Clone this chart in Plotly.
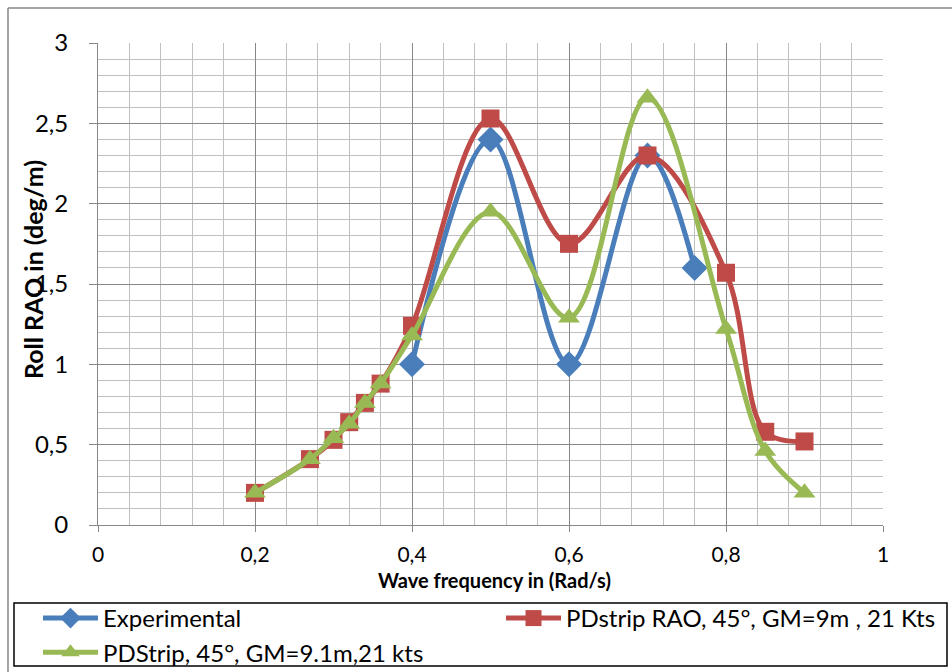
import plotly.graph_objects as go

# ---- data ----
x_exp = [0.4, 0.5, 0.6, 0.7, 0.76]
y_exp = [1.0, 2.4, 1.0, 2.3, 1.6]

x_pd = [0.2, 0.27, 0.3, 0.32, 0.34, 0.36, 0.4, 0.5, 0.6, 0.7, 0.8, 0.85, 0.9]
y_pd_9m = [0.2, 0.41, 0.53, 0.64, 0.76, 0.88, 1.24, 2.53, 1.75, 2.3, 1.57, 0.58, 0.52]
y_pd_91m = [0.2, 0.41, 0.54, 0.63, 0.76, 0.88, 1.18, 1.95, 1.29, 2.66, 1.22, 0.46, 0.2]

names = ["Experimental", "PDstrip RAO, 45°, GM=9m , 21 Kts", "PDStrip, 45°, GM=9.1m,21 kts"]

x_tickvals = [0, 0.2, 0.4, 0.6, 0.8, 1]
x_ticktext = ["0", "0,2", "0,4", "0,6", "0,8", "1"]
y_tickvals = [0, 0.5, 1, 1.5, 2, 2.5, 3]
y_ticktext = ["0", "0,5", "1", "1,5", "2", "2,5", "3"]

x_title = "Wave frequency in (Rad/s)"
y_title = "Roll RAO in (deg/m)"

BLUE = "#4A7EBB"
RED = "#BE4B48"
GREEN = "#98B954"
FONT = "Lato"
GRID_MAJ = "#878787"
GRID_MIN = "#C0C0C0"

fig = go.Figure()
fig.add_trace(go.Scatter(
    x=x_exp, y=y_exp, name=names[0], mode="lines+markers", legend="legend",
    line=dict(color=BLUE, width=5, shape="spline", smoothing=1),
    marker=dict(symbol="diamond", size=20, color=BLUE)))
fig.add_trace(go.Scatter(
    x=x_pd, y=y_pd_9m, name=names[1], mode="lines+markers", legend="legend2",
    line=dict(color=RED, width=5, shape="spline", smoothing=1),
    marker=dict(symbol="square", size=18, color=RED)))
fig.add_trace(go.Scatter(
    x=x_pd, y=y_pd_91m, name=names[2], mode="lines+markers", legend="legend",
    line=dict(color=GREEN, width=5, shape="spline", smoothing=1),
    marker=dict(symbol="triangle-up", size=19, color=GREEN)))

L, R, T, B = 98, 69, 43, 147
W, H = 952, 672
pw, ph = W - L - R, H - T - B


def px(xp):
    return (xp - L) / pw


def py(yp):
    return (H - B - yp) / ph


legend_common = dict(
    orientation="v", xanchor="left", yanchor="top",
    borderwidth=0, bgcolor="rgba(0,0,0,0)", itemwidth=55,
    font=dict(family=FONT, size=24, color="#000000"),
    traceorder="normal", tracegroupgap=0)

fig.update_layout(
    width=W, height=H,
    margin=dict(l=L, r=R, t=T, b=B, pad=0, autoexpand=False),
    paper_bgcolor="white", plot_bgcolor="white",
    font=dict(family=FONT, size=19, color="#000000"),
    showlegend=True,
    legend=dict(x=px(38), y=py(596), **legend_common),
    legend2=dict(x=px(501), y=py(596), **legend_common),
    xaxis=dict(
        range=[0, 1], tickmode="array", tickvals=x_tickvals, ticktext=x_ticktext,
        showgrid=True, gridcolor=GRID_MAJ, gridwidth=1,
        showline=True, linecolor=GRID_MAJ, linewidth=1,
        ticks="outside", ticklen=6, tickcolor=GRID_MAJ,
        ticklabelstandoff=5,
        zeroline=False,
        minor=dict(tickmode="linear", tick0=0, dtick=0.04, showgrid=True,
                   gridcolor=GRID_MIN, gridwidth=1, ticks=""),
        tickfont=dict(size=21)),
    yaxis=dict(
        range=[0, 3], tickmode="array", tickvals=y_tickvals, ticktext=y_ticktext,
        showgrid=True, gridcolor=GRID_MAJ, gridwidth=1,
        showline=True, linecolor=GRID_MAJ, linewidth=1,
        ticks="outside", ticklen=8, tickcolor=GRID_MAJ,
        ticklabelstandoff=16,
        zeroline=False,
        minor=dict(tickmode="linear", tick0=0, dtick=0.1, showgrid=True,
                   gridcolor=GRID_MIN, gridwidth=1, ticks=""),
        tickfont=dict(size=24)),
    annotations=[
        dict(text="<b>" + x_title + "</b>", xref="paper", yref="paper",
             x=px(494), y=py(580), xanchor="center", yanchor="middle",
             showarrow=False, font=dict(family=FONT, size=20, color="#000000")),
        dict(text="<b>" + y_title + "</b>", xref="paper", yref="paper",
             x=px(33), y=py(270), xanchor="center", yanchor="middle", textangle=-90,
             showarrow=False, font=dict(family=FONT, size=25, color="#000000")),
    ],
    shapes=[
        dict(type="line", xref="paper", yref="paper", x0=px(8), x1=px(960), y0=py(8), y1=py(8),
             line=dict(color=GRID_MAJ, width=1.5)),
        dict(type="line", xref="paper", yref="paper", x0=px(8), x1=px(8), y0=py(8), y1=py(680),
             line=dict(color=GRID_MAJ, width=1.5)),
        dict(type="rect", xref="paper", yref="paper", x0=px(14), x1=px(947), y0=py(603), y1=py(666),
             line=dict(color="#000000", width=1.5), fillcolor="white", layer="below"),
    ],
)

fig.write_html("out.html")
